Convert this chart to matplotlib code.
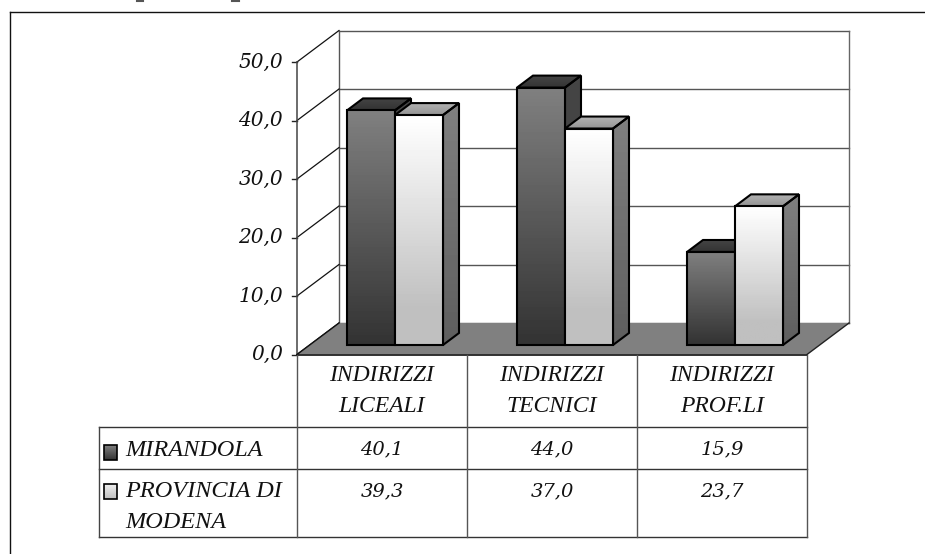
import matplotlib
matplotlib.use('Agg')
import matplotlib.pyplot as plt
import numpy as np
from matplotlib.patches import Polygon

W, H = 925, 554
categories = ['INDIRIZZI\nLICEALI', 'INDIRIZZI\nTECNICI', 'INDIRIZZI\nPROF.LI']
series_names = ['MIRANDOLA', 'PROVINCIA DI\nMODENA']
mirandola = [40.1, 44.0, 15.9]
provincia = [39.3, 37.0, 23.7]
mirandola_txt = ['40,1', '44,0', '15,9']
provincia_txt = ['39,3', '37,0', '23,7']
y_ticks = [0, 10, 20, 30, 40, 50]
y_labels = ['0,0', '10,0', '20,0', '30,0', '40,0', '50,0']

# scala: una categoria = 170 px, una unita' = 5.85 px
PX_X = 170.0
PX_Y = 5.85
X0, Y0 = 297.0, 354.5
SERIF = 'DejaVu Serif'
TIMES = 'Liberation Serif'


def px(x):
    return x / PX_X


def py(y):
    return y / PX_Y


fig = plt.figure(figsize=(W / 100, H / 100), dpi=100)
ax = fig.add_axes([0, 0, 1, 1])
ax.axis('off')
xlim = (-X0 / PX_X, (W - X0) / PX_X)
ylim = ((Y0 - H) / PX_Y, Y0 / PX_Y)

DX, DY = px(42), py(31.5)   # profondita' del pavimento
BX, BY = px(16), py(12)     # profondita' delle barre
OX, OY = px(13), py(9.5)    # piano frontale delle barre
BW = px(48)
N = len(categories)


def vgrad(c_top, c_bot, flat=0.0):
    v = np.linspace(0, 1, 64)
    v = np.clip(v / (1 - flat), 0, 1)
    return (c_top + (c_bot - c_top) * v).reshape(-1, 1)


def fill(poly, c_top, c_bot, flat=0.0, z=3, lw=1.5):
    poly = np.array(poly)
    x0, x1 = poly[:, 0].min(), poly[:, 0].max()
    y0, y1 = poly[:, 1].min(), poly[:, 1].max()
    im = ax.imshow(vgrad(c_top, c_bot, flat), cmap='gray', vmin=0, vmax=1, aspect='auto',
                   extent=(x0, x1, y0, y1), origin='upper', zorder=z, interpolation='bilinear')
    p = Polygon(poly, closed=True, fc='none', ec='black', lw=lw, zorder=z + 0.1, joinstyle='miter')
    ax.add_patch(p)
    im.set_clip_path(p)


def bar3d(x, v, front, side, top, z):
    b = OY
    fill([(x, b), (x + BW, b), (x + BW, b + v), (x, b + v)], front[0], front[1], front[2], z)
    fill([(x + BW, b), (x + BW + BX, b + BY), (x + BW + BX, b + v + BY), (x + BW, b + v)],
         side[0], side[1], 0, z - 0.4)
    fill([(x, b + v), (x + BW, b + v), (x + BW + BX, b + v + BY), (x + BX, b + v + BY)],
         top[0], top[1], 0, z - 0.4)


# pareti e griglia
ax.add_patch(Polygon([(0, 0), (DX, DY), (N + DX, DY), (N, 0)], closed=True, fc='#808080', ec='none', zorder=1))
ax.plot([0, N], [0, 0], color='#222222', lw=1.3, zorder=1.5)
ax.plot([0, DX], [0, DY], color='#111111', lw=1, zorder=1.5)
ax.plot([N, N + DX], [0, DY], color='#222222', lw=1, zorder=1.5)
for t in y_ticks:
    ax.plot([DX, N + DX], [t + DY, t + DY], color='#555555', lw=1, zorder=0.5)
    ax.plot([0, DX], [t, t + DY], color='#111111', lw=0.9, zorder=0.6)
    ax.plot([-px(5), 0], [t, t], color='#222222', lw=1, zorder=0.6)
ax.plot([0, 0], [0, y_ticks[-1]], color='#444444', lw=1.1, zorder=0.6)
ax.plot([DX, DX], [0 + DY, y_ticks[-1] + DY], color='#555555', lw=1, zorder=0.5)
ax.plot([N + DX, N + DX], [0 + DY, y_ticks[-1] + DY], color='#666666', lw=1, zorder=0.5)

for lab, t in zip(y_labels, y_ticks):
    ax.text(-px(14), t, lab, ha='right', va='center', family=SERIF, style='italic', fontsize=14.5, color='#111111')

# barre
for i in range(N):
    x = i + 0.5 + OX - BW
    bar3d(x, mirandola[i], (0.5, 0.2, 0.0), (0.27, 0.25), (0.27, 0.2), 3 + i)
    bar3d(x + BW, provincia[i], (1.0, 0.75, 0.15), (0.5, 0.37), (0.7, 0.58), 3.6 + i)

# tabella
T1, T2, T3 = (Y0 - 427) / PX_Y, (Y0 - 469) / PX_Y, (Y0 - 537) / PX_Y
TL = (99 - X0) / PX_X
for y in (T1, T2, T3):
    ax.plot([TL, N], [y, y], color='#333333', lw=1, zorder=2)
ax.plot([TL, TL], [T1, T3], color='#444444', lw=1, zorder=2)
for i in range(N + 1):
    ax.plot([i, i], [0, T3], color='#555555', lw=1, zorder=2)

for i, c in enumerate(categories):
    ax.text(i + 0.5, (0 + T1) / 2, c, ha='center', va='center', family=TIMES, style='italic',
            fontsize=17, linespacing=1.6, color='#111111')
    ax.text(i + 0.5, (T1 + T2) / 2 - py(1), mirandola_txt[i], ha='center', va='center', family=SERIF, style='italic',
            fontsize=14, color='#111111')
    ax.text(i + 0.5, T2 - py(22.5), provincia_txt[i], ha='center', va='center', family=SERIF, style='italic',
            fontsize=14, color='#111111')

# legenda
LX = (125 - X0) / PX_X
ax.text(LX, (T1 + T2) / 2 - py(2), series_names[0], ha='left', va='center', family=TIMES, style='italic',
        fontsize=17.5, color='#111111')
ax.text(LX, T2 - py(38), series_names[1], ha='left', va='center', family=TIMES, style='italic',
        fontsize=17.5, linespacing=1.65, color='#111111')
sx = px(104 - X0)
sw = px(13)
sh = py(15)
s1 = T1 - py(18)
s2 = T2 - py(15)
fill([(sx, s1), (sx + sw, s1), (sx + sw, s1 - sh), (sx, s1 - sh)], 0.5, 0.2, 0, 3, 1.2)
fill([(sx, s2), (sx + sw, s2), (sx + sw, s2 - sh), (sx, s2 - sh)], 0.95, 0.75, 0, 3, 1.2)

# cornice esterna
ax.plot([px(9.5 - X0), px(9.5 - X0)], [ylim[0], py(Y0 - 11.5)], color='#111111', lw=1, zorder=2)
ax.plot([px(9.5 - X0), xlim[1]], [py(Y0 - 11.5), py(Y0 - 11.5)], color='#111111', lw=1, zorder=2)

# resti di testo tagliato in alto
for a, b in ((137, 143), (232, 239)):
    ax.plot([px(a - X0), px(b - X0)], [py(Y0 - 1), py(Y0 - 1)], color='#555555', lw=1.5, zorder=2)

ax.set_xlim(xlim)
ax.set_ylim(ylim)
fig.savefig('out.png', dpi=100, facecolor='white')
